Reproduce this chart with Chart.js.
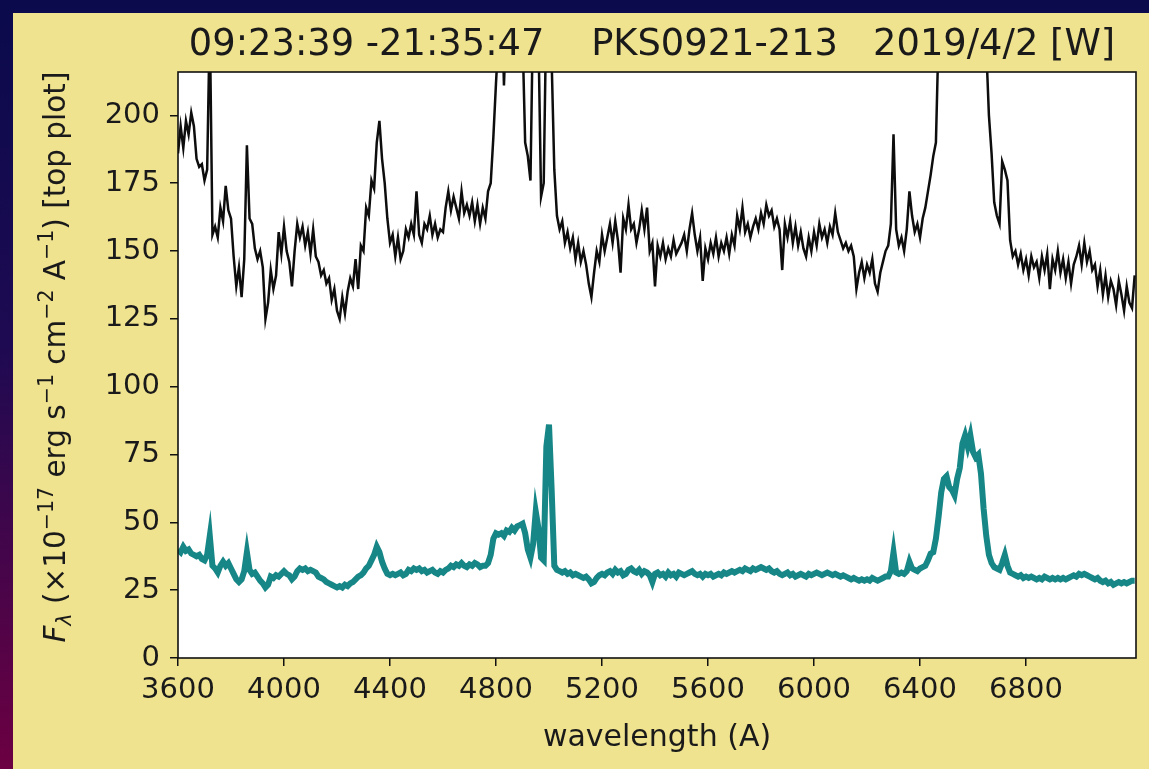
<!DOCTYPE html>
<html>
<head>
<meta charset="utf-8">
<script src="https://cdn.jsdelivr.net/npm/chart.js@4.4.1/dist/chart.umd.min.js"></script>
<style>
html,body{margin:0;padding:0;background:#0a0a4a;overflow:hidden;}
canvas{display:block;}
</style>
</head>
<body>
<canvas id="c" width="1149" height="769"></canvas>
<script>
const titleText = '09:23:39 -21:35:47    PKS0921-213   2019/4/2 [W]';
const xLabel = 'wavelength (A)';
const xTicks = [3600, 4000, 4400, 4800, 5200, 5600, 6000, 6400, 6800];
const yTicks = [0, 25, 50, 75, 100, 125, 150, 175, 200];

const wavelengths = [
3600,3610,3620,3630,3640,3650,3660,3670,3680,3690,
3700,3710,3720,3730,3740,3750,3760,3770,3780,3790,
3800,3810,3820,3830,3840,3850,3860,3870,3880,3890,
3900,3910,3920,3930,3940,3950,3960,3970,3980,3990,
4000,4010,4020,4030,4040,4050,4060,4070,4080,4090,
4100,4110,4120,4130,4140,4150,4160,4170,4180,4190,
4200,4210,4220,4230,4240,4250,4260,4270,4280,4290,
4300,4310,4320,4330,4340,4350,4360,4370,4380,4390,
4400,4410,4420,4430,4440,4450,4460,4470,4480,4490,
4500,4510,4520,4530,4540,4550,4560,4570,4580,4590,
4600,4610,4620,4630,4640,4650,4660,4670,4680,4690,
4700,4710,4720,4730,4740,4750,4760,4770,4780,4790,
4800,4810,4820,4830,4840,4850,4860,4870,4880,4890,
4900,4910,4920,4930,4940,4950,4960,4970,4980,4990,
5000,5010,5020,5030,5040,5050,5060,5070,5080,5090,
5100,5110,5120,5130,5140,5150,5160,5170,5180,5190,
5200,5210,5220,5230,5240,5250,5260,5270,5280,5290,
5300,5310,5320,5330,5340,5350,5360,5370,5380,5390,
5400,5410,5420,5430,5440,5450,5460,5470,5480,5490,
5500,5510,5520,5530,5540,5550,5560,5570,5580,5590,
5600,5610,5620,5630,5640,5650,5660,5670,5680,5690,
5700,5710,5720,5730,5740,5750,5760,5770,5780,5790,
5800,5810,5820,5830,5840,5850,5860,5870,5880,5890,
5900,5910,5920,5930,5940,5950,5960,5970,5980,5990,
6000,6010,6020,6030,6040,6050,6060,6070,6080,6090,
6100,6110,6120,6130,6140,6150,6160,6170,6180,6190,
6200,6210,6220,6230,6240,6250,6260,6270,6280,6290,
6300,6310,6320,6330,6340,6350,6360,6370,6380,6390,
6400,6410,6420,6430,6440,6450,6460,6470,6480,6490,
6500,6510,6520,6530,6540,6550,6560,6570,6580,6590,
6600,6610,6620,6630,6640,6650,6660,6670,6680,6690,
6700,6710,6720,6730,6740,6750,6760,6770,6780,6790,
6800,6810,6820,6830,6840,6850,6860,6870,6880,6890,
6900,6910,6920,6930,6940,6950,6960,6970,6980,6990,
7000,7010,7020,7030,7040,7050,7060,7070,7080,7090,
7100,7110,7120,7130,7140,7150,7160,7170,7180,7190,
7200,7210
];

const topSpectrum = [
186,196,188,198,193,201,196,184,181,182,
176,180,235,156,159,155,166,161,174,165,
162,148,137,144,133,147,189,162,160,151,
147,150,144,125,131,143,136,141,157,149,
159,150,146,137,150,160,155,159,152,157,
149,158,148,146,141,143,138,140,132,136,
128,125,133,127,135,140,137,147,136,152,
150,166,163,176,173,190,198,184,175,162,
153,156,148,155,147,150,158,155,160,156,
172,156,153,160,158,163,156,160,155,158,
157,166,172,165,170,166,162,172,164,167,
163,168,161,167,160,166,162,172,175,192,
212,230,250,211,240,260,280,300,300,280,
230,190,185,176,240,260,230,170,175,240,
300,220,180,163,158,161,153,157,151,155,
147,153,146,150,145,138,133,142,150,146,
156,150,155,160,153,161,154,142,162,158,
167,158,160,153,158,165,158,166,150,153,
137,152,148,153,147,151,148,154,149,151,
153,156,150,158,164,156,150,155,139,151,
147,153,149,155,148,153,150,155,149,156,
152,163,158,166,157,160,155,159,162,158,
164,160,167,163,165,159,162,158,143,160,
155,161,153,159,152,157,151,148,155,150,
157,152,160,155,158,153,159,156,164,157,
154,151,153,150,152,148,136,142,146,140,
145,142,147,138,135,142,146,150,152,160,
193,158,152,155,150,158,172,163,157,160,
155,162,166,172,178,185,190,230,280,320,
380,420,450,480,500,520,540,560,540,500,
460,400,340,290,260,225,200,186,168,163,
160,183,180,176,154,148,150,145,149,143,
147,141,148,144,146,140,148,143,149,136,
147,143,150,142,147,140,146,138,145,148,
152,145,153,146,150,143,145,137,143,134,
141,133,139,136,130,139,134,128,137,131,
129,141
];

const bottomSpectrum = [
40,39,41,39.5,40,38.5,38,37.5,38,36.5,
36,38,45,34,33,31.5,34,35.5,34,35,
33,31,29,28,29,32,39,32.5,31,31.5,
30,28.5,27.5,26,27,30,29.5,30.5,30,31,
32,31,30.5,29,30,32,33,32.5,33,32,
32.5,32,31.5,30,29.5,29,28,27.5,27,26.5,
26,26.5,26,27,26.5,27.5,28,29,30,30.5,
31.5,33,34,36,38,41,39,35.5,33,31,
30.5,31,30.5,31,31.5,30.5,31,32.5,32,33,
32.5,33,32,32.5,31.5,32,32.5,31.5,31,32,
31.5,32.5,33,34,33.5,34.5,34,35,34,33.5,
34.5,34,35,34.5,33.5,34,34,35,38,44,
46,45.5,46,45,47,46.5,48,47,48.5,49,
49.5,46,40,37,42,54,48,37,36,78,
86,62,34,32.5,32,31.5,32,31,31.5,30.5,
31,30.5,30,29.5,30,29,27.5,28,29.5,30.5,
31,30.5,31.5,32,31,32.5,31.5,32,30.5,31,
32.5,33,32,31.5,32.5,31,32,31.5,30.5,28,
31,31.5,30.5,31,30,31.5,30.5,31,30,31.5,
31,30.5,31,31.5,32,31,30.5,31,30,31,
30.5,31,30,30.5,31,30.5,31.5,31,31.5,32,
31.5,32,32.5,32,33,32.5,32,33,32.5,33,
33.5,33,32.5,33,32,31.5,32,31,30.5,31,
31.5,30.5,31,30,30.5,31,30.5,30,31,30.5,
31,31.5,31,30.5,31,31.5,31,30.5,31,30.5,
30,30.5,30,29.5,29,29.5,29,28.5,29,28.5,
29,28.5,29.5,29,28.5,29,29.5,30,30,32,
39,31.5,31,31.5,31,32,35.5,33,32.5,32,
33,33.5,34,36,38.5,39,44,52,61,66,
67,63,62,60,66,70,79,82,78,82,
76,74,75,68,55,45,38,35,33.5,33,
32.5,35,38,34,31.5,31,30.5,30,30.5,29.5,
30,29.5,30,29.5,29,29.5,29,30,29.5,29,
29.5,29,29.5,29,29.5,29,29.5,30,30.5,30,
31,30.5,31,30.5,30,29.5,29,29.5,28.5,28,
28.5,27.5,28,27,27.5,28,27.5,28,27.5,28,
28.5,28.5
];

const FONT = '"DejaVu Sans", "Liberation Sans", sans-serif';

const decor = {
  id: 'decor',
  beforeDraw(chart) {
    const ctx = chart.ctx, W = chart.width, H = chart.height;
    ctx.save();
    const g = ctx.createLinearGradient(0, 0, 0, H);
    g.addColorStop(0, '#0a0a4c');
    g.addColorStop(0.45, '#1e0a52');
    g.addColorStop(1, '#6c0042');
    ctx.fillStyle = g;
    ctx.fillRect(0, 0, W, H);
    ctx.fillStyle = '#f0e38f';
    ctx.fillRect(13, 13, W - 13, H - 13);
    const a = chart.chartArea;
    ctx.fillStyle = '#ffffff';
    ctx.fillRect(a.left, a.top, a.right - a.left, a.bottom - a.top);
    ctx.restore();
  },
  afterDraw(chart) {
    const ctx = chart.ctx, a = chart.chartArea;
    ctx.save();
    ctx.strokeStyle = '#111';
    ctx.lineWidth = 1.6;
    ctx.strokeRect(a.left, a.top, a.right - a.left, a.bottom - a.top);
    // title
    ctx.fillStyle = '#1a1a1a';
    ctx.textAlign = 'center';
    ctx.textBaseline = 'middle';
    ctx.font = '36.8px ' + FONT;
    ctx.fillText(titleText, 652, 45);
    // x label
    ctx.font = '30px ' + FONT;
    ctx.fillText(xLabel, (a.left + a.right) / 2, 738);
    // y label with sub/superscripts
    const base = 29.5, small = 20.5;
    const parts = [
      {t: 'F', f: 'italic ' + base + 'px ' + FONT, dy: 0},
      {t: 'λ', f: 'italic ' + small + 'px ' + FONT, dy: 6},
      {t: ' (×10', f: base + 'px ' + FONT, dy: 0},
      {t: '−17', f: small + 'px ' + FONT, dy: -12},
      {t: ' erg s', f: base + 'px ' + FONT, dy: 0},
      {t: '−1', f: small + 'px ' + FONT, dy: -12},
      {t: ' cm', f: base + 'px ' + FONT, dy: 0},
      {t: '−2', f: small + 'px ' + FONT, dy: -12},
      {t: ' A', f: base + 'px ' + FONT, dy: 0},
      {t: '−1', f: small + 'px ' + FONT, dy: -12},
      {t: ') [top plot]', f: base + 'px ' + FONT, dy: 0}
    ];
    let total = 0;
    parts.forEach(p => { ctx.font = p.f; p.w = ctx.measureText(p.t).width; total += p.w; });
    ctx.translate(55, 357);
    ctx.rotate(-Math.PI / 2);
    ctx.textAlign = 'left';
    ctx.textBaseline = 'alphabetic';
    let x = -total / 2;
    parts.forEach(p => { ctx.font = p.f; ctx.fillText(p.t, x, 10 + p.dy); x += p.w; });
    ctx.restore();
  }
};

const tickFont = {family: 'DejaVu Sans', size: 29};

new Chart(document.getElementById('c'), {
  type: 'line',
  data: {
    datasets: [
      {
        data: wavelengths.map((w, i) => ({x: w, y: topSpectrum[i]})),
        borderColor: '#0d0d0d',
        borderWidth: 2.5,
        pointRadius: 0,
        tension: 0,
        fill: false
      },
      {
        data: wavelengths.map((w, i) => ({x: w, y: bottomSpectrum[i]})),
        borderColor: '#178686',
        borderWidth: 6,
        pointRadius: 0,
        tension: 0,
        fill: false
      }
    ]
  },
  options: {
    responsive: false,
    animation: false,
    devicePixelRatio: 1,
    layout: {padding: {top: 72, right: 13, left: 0, bottom: 0}},
    plugins: {legend: {display: false}, tooltip: {enabled: false}, title: {display: false}},
    scales: {
      x: {
        type: 'linear', min: 3600, max: 7215,
        afterBuildTicks: ax => { ax.ticks = xTicks.map(v => ({value: v})); },
        afterFit: ax => { ax.height = 111; },
        grid: {display: true, drawOnChartArea: false, drawTicks: true, tickLength: 8, lineWidth: 1.5, color: '#111'},
        border: {display: false},
        ticks: {font: tickFont, color: '#1a1a1a', padding: 7, maxRotation: 0, autoSkip: false, callback: v => String(v)}
      },
      y: {
        type: 'linear', min: 0, max: 216,
        afterBuildTicks: ax => { ax.ticks = yTicks.map(v => ({value: v})); },
        afterFit: ax => { ax.width = 178; },
        grid: {display: true, drawOnChartArea: false, drawTicks: true, tickLength: 8, lineWidth: 1.5, color: '#111'},
        border: {display: false},
        ticks: {font: tickFont, color: '#1a1a1a', padding: 10, autoSkip: false, callback: v => String(v)}
      }
    }
  },
  plugins: [decor]
});
</script>
</body>
</html>
